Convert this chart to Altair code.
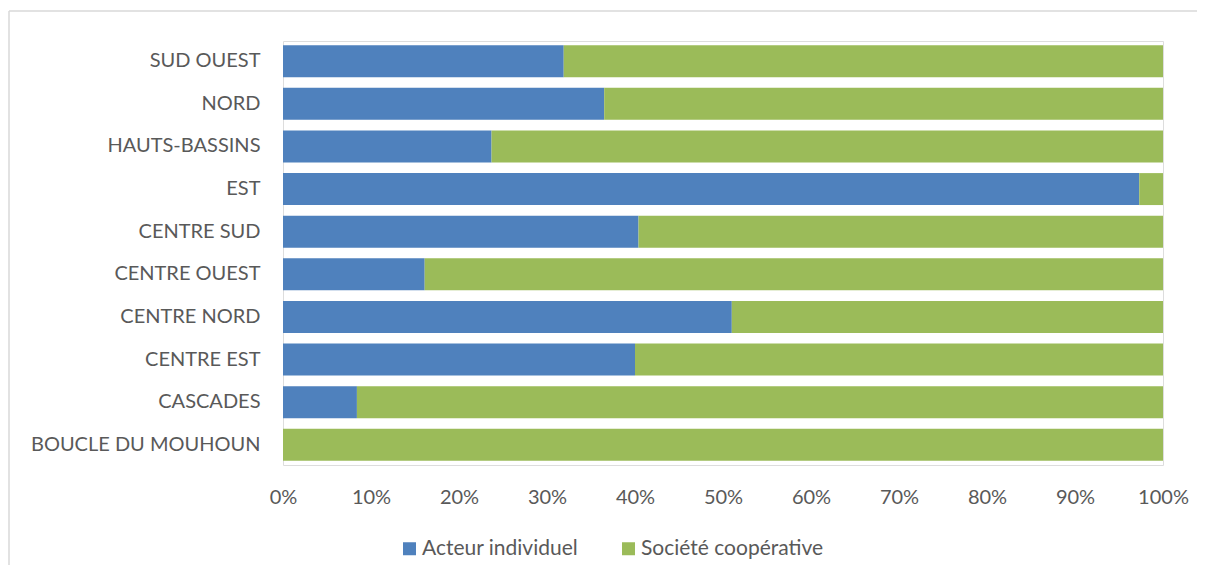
import altair as alt
import pandas as pd

regions = ["SUD OUEST", "NORD", "HAUTS-BASSINS", "EST", "CENTRE SUD",
           "CENTRE OUEST", "CENTRE NORD", "CENTRE EST", "CASCADES",
           "BOUCLE DU MOUHOUN"]
acteur_individuel = [31.9, 36.5, 23.7, 97.3, 40.4, 16.1, 51.0, 40.0, 8.4, 0.0]
societe_cooperative = [68.1, 63.5, 76.3, 2.7, 59.6, 83.9, 49.0, 60.0, 91.6, 100.0]
series = ["Acteur individuel", "Société coopérative"]
colors = ["#4F81BD", "#9BBB59"]
x_ticks = [0, 0.1, 0.2, 0.3, 0.4, 0.5, 0.6, 0.7, 0.8, 0.9, 1.0]

rows = []
for r, a, s in zip(regions, acteur_individuel, societe_cooperative):
    rows.append({"region": r, "serie": series[0], "valeur": a, "ordre": 0})
    rows.append({"region": r, "serie": series[1], "valeur": s, "ordre": 1})
df = pd.DataFrame(rows)

FONT = "Lato"
TXT = "#595959"

bars = alt.Chart(df).mark_bar().encode(
    y=alt.Y("region:N", sort=regions,
            scale=alt.Scale(paddingInner=0.25, paddingOuter=0.1),
            axis=alt.Axis(title=None, domain=False, ticks=False, labelPadding=23,
                          labelFont=FONT, labelFontSize=20, labelColor=TXT,
                          labelLimit=400)),
    x=alt.X("valeur:Q", stack="normalize",
            scale=alt.Scale(domain=[0, 1], nice=False),
            axis=alt.Axis(title=None, domain=False, ticks=False, grid=False,
                          values=x_ticks, format=".0%", labelPadding=22,
                          labelFlush=False,
                          labelFont=FONT, labelFontSize=20, labelColor=TXT)),
    color=alt.Color("serie:N", sort=series,
                    scale=alt.Scale(domain=series, range=colors),
                    legend=alt.Legend(title=None, orient="none", direction="horizontal",
                                      legendX=116, legendY=497,
                                      symbolType="square", symbolSize=169,
                                      symbolStrokeWidth=0,
                                      labelFont=FONT, labelFontSize=21,
                                      labelColor=TXT, labelOffset=2,
                                      columnPadding=39, labelLimit=400)),
    order=alt.Order("ordre:Q"),
)

border_top = alt.Chart(pd.DataFrame({"k": [0]})).mark_rule(
    color="#D9D9D9", strokeWidth=1.5, clip=False
).encode(x=alt.value(-274), x2=alt.value(1000), y=alt.value(-30))

border_left = alt.Chart(pd.DataFrame({"k": [0]})).mark_rule(
    color="#D9D9D9", strokeWidth=1.5, clip=False
).encode(x=alt.value(-274), y=alt.value(-30), y2=alt.value(700))

chart = alt.layer(border_top, border_left, bars).properties(
    width=880, height=424,
    autosize=alt.AutoSizeParams(type="none"),
    padding={"left": 275, "top": 33, "right": 34, "bottom": 100},
).configure_view(
    stroke="#D9D9D9", strokeWidth=3
).configure(background="white")

chart.save("out.html", embed_options={"renderer": "svg", "actions": False})
